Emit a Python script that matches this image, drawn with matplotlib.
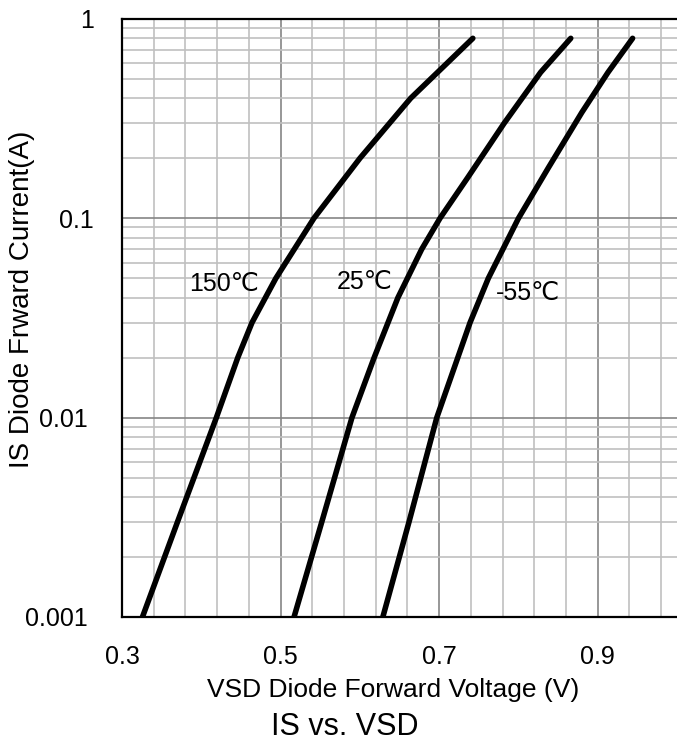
import matplotlib
matplotlib.use("Agg")
import matplotlib.pyplot as plt
from matplotlib.ticker import FixedLocator, NullFormatter, LogLocator
from matplotlib.transforms import ScaledTranslation
import numpy as np

plt.rcParams['font.family'] = ['Liberation Sans', 'DejaVu Sans']

# Data
v_150 = [0.3258, 0.370, 0.419, 0.446, 0.464, 0.494, 0.542, 0.600, 0.664, 0.7425]
i_150 = [0.001, 0.003, 0.01, 0.02, 0.03, 0.05, 0.1, 0.2, 0.4, 0.80]

v_25 = [0.517, 0.552, 0.590, 0.618, 0.648, 0.678, 0.701, 0.736, 0.782, 0.828, 0.866]
i_25 = [0.001, 0.003, 0.01, 0.02, 0.04, 0.07, 0.1, 0.16, 0.30, 0.54, 0.80]

v_m55 = [0.629, 0.662, 0.697, 0.739, 0.762, 0.800, 0.838, 0.880, 0.913, 0.944]
i_m55 = [0.001, 0.003, 0.01, 0.03, 0.05, 0.1, 0.18, 0.34, 0.54, 0.80]

labels = ["150\u2103", "25\u2103", "-55\u2103"]
label_pos = [(0.4286, 0.047), (0.6064, 0.048), (0.812, 0.042)]

x_ticks = [0.3, 0.5, 0.7, 0.9]
x_tick_labels = ["0.3", "0.5", "0.7", "0.9"]
y_ticks = [0.001, 0.01, 0.1, 1]
y_tick_labels = ["0.001", "0.01", "0.1", "1"]

W, H = 677, 747
fig = plt.figure(figsize=(W / 100, H / 100), dpi=100)
ax = fig.add_axes([122 / W, 1 - 617 / H, (677 - 122) / W, (617 - 19) / H])

ax.set_yscale('log')
ax.set_xlim(0.3, 1.0)
ax.set_ylim(0.001, 1)

ax.xaxis.set_major_locator(FixedLocator(x_ticks))
ax.xaxis.set_minor_locator(FixedLocator(np.arange(0.30, 1.0001, 0.04)))
ax.set_xticklabels(x_tick_labels)
ax.yaxis.set_major_locator(FixedLocator(y_ticks))
ax.yaxis.set_minor_locator(LogLocator(base=10, subs=np.arange(2, 10)))
ax.yaxis.set_minor_formatter(NullFormatter())
ax.set_yticklabels(y_tick_labels)

ax.grid(which='minor', color='#c0c0c0', linewidth=1.2)
ax.grid(which='major', color='#858585', linewidth=1.2)
ax.set_axisbelow(True)

ax.tick_params(which='both', length=0)
ax.tick_params(axis='x', labelsize=18, pad=20)
ax.tick_params(axis='y', labelsize=18, pad=20)

# the two lower labels sit a little further left in the reference
for lbl in ax.get_yticklabels():
    if lbl.get_text() in ("0.01", "0.001"):
        lbl.set_transform(lbl.get_transform() + ScaledTranslation(-5 / 72, 0, fig.dpi_scale_trans))

for s in ['left', 'bottom', 'top']:
    ax.spines[s].set_linewidth(1.6)
    ax.spines[s].set_color('black')
ax.spines['right'].set_visible(False)

for v, i in [(v_150, i_150), (v_25, i_25), (v_m55, i_m55)]:
    ax.plot(v, i, color='black', linewidth=4.0, solid_capstyle='round', solid_joinstyle='round')

for lab, (x, y) in zip(labels, label_pos):
    ax.text(x, y, lab, fontsize=18, ha='center', va='center', color='black')

fig.text(393 / W, 1 - 690 / H, "VSD Diode Forward Voltage (V)", fontsize=19, ha='center', va='center')
fig.text(22 / W, 1 - 299 / H, "IS Diode Frward Current(A)", fontsize=20, ha='center', va='center', rotation=90)
fig.text(345 / W, 1 - 727 / H, "IS vs. VSD", fontsize=22, ha='center', va='center')

fig.savefig("out.png", dpi=100)
